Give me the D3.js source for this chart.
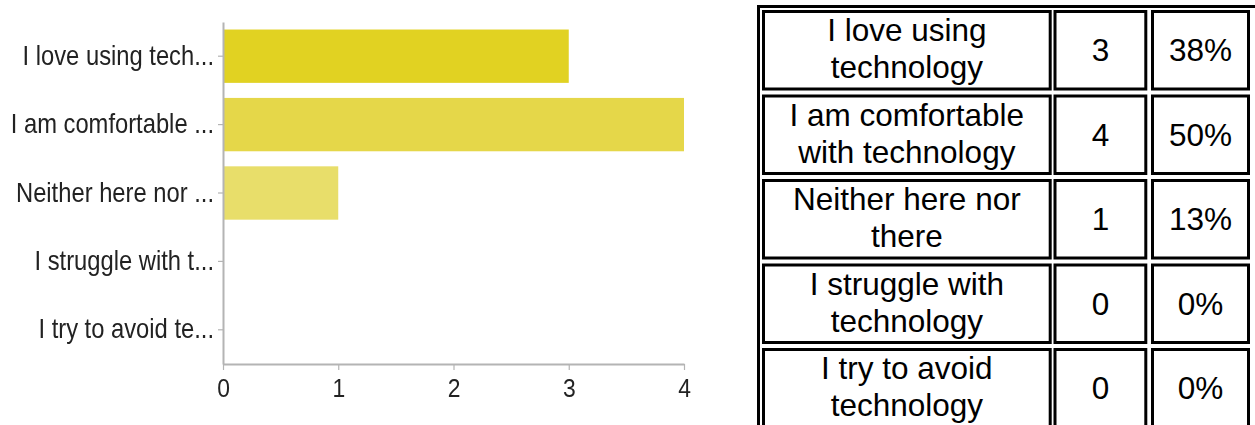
<!DOCTYPE html>
<html>
<head>
<meta charset="utf-8">
<script src="https://cdn.jsdelivr.net/npm/d3@7"></script>
<style>
  html, body { margin: 0; padding: 0; background: #fff; }
  svg { display: block; }
</style>
</head>
<body>
<svg id="chart" width="1255" height="425"></svg>
<script>
// Survey answers: "How do you feel about technology?"
const shortLabels = [
  "I love using tech...",
  "I am comfortable ...",
  "Neither here nor ...",
  "I struggle with t...",
  "I try to avoid te..."
];
const fullLabels = [
  ["I love using", "technology"],
  ["I am comfortable", "with technology"],
  ["Neither here nor", "there"],
  ["I struggle with", "technology"],
  ["I try to avoid", "technology"]
];
const counts = [3, 4, 1, 0, 0];
const percents = [38, 50, 13, 0, 0];
const xTicks = [0, 1, 2, 3, 4];
const barColors = ["#e1d223", "#e5d749", "#e8de6b", "#ebe38a", "#eee8a6"];

const svg = d3.select("#chart");

// soft edge used on the bar chart
const defs = svg.append("defs");
defs.append("filter").attr("id", "soft")
  .attr("x", "-5%").attr("y", "-5%").attr("width", "110%").attr("height", "110%")
  .append("feGaussianBlur").attr("stdDeviation", 0.6);

// ---------- bar chart ----------
const x = d3.scaleLinear().domain([0, 4]).range([223, 684]);
const y = d3.scaleBand().domain(shortLabels).range([22, 364])
  .paddingInner(0.22).paddingOuter(0.11);

const chartFont = "'Liberation Sans', Arial, sans-serif";
const squeeze = 0.88;

const chart = svg.append("g").attr("filter", "url(#soft)");

chart.selectAll("rect.bar")
  .data(counts)
  .join("rect")
  .attr("class", "bar")
  .attr("x", x(0))
  .attr("y", (d, i) => y(shortLabels[i]))
  .attr("width", d => x(d) - x(0))
  .attr("height", y.bandwidth())
  .attr("fill", (d, i) => barColors[i]);

const yAxis = chart.append("g")
  .attr("transform", `translate(${x(0)},0)`)
  .call(d3.axisLeft(y).tickSize(5).tickSizeOuter(0).tickPadding(4));
yAxis.select(".domain").attr("stroke", "#b4b4b4").attr("stroke-width", 2);
yAxis.selectAll(".tick line").attr("stroke", "#b4b4b4").attr("stroke-width", 1.2);
yAxis.selectAll(".tick text")
  .attr("fill", "#222")
  .attr("x", 0)
  .attr("transform", `translate(-9,0) scale(${squeeze},1)`)
  .style("font-family", chartFont)
  .style("font-size", "27px");

const xAxis = chart.append("g")
  .attr("transform", `translate(0,364)`)
  .call(d3.axisBottom(x).tickValues(xTicks).tickFormat(d3.format("d"))
    .tickSize(6).tickSizeOuter(0).tickPadding(9));
xAxis.select(".domain").attr("stroke", "#b4b4b4").attr("stroke-width", 2);
xAxis.selectAll(".tick line").attr("stroke", "#b4b4b4").attr("stroke-width", 1.2);
xAxis.selectAll(".tick text")
  .attr("fill", "#222")
  .attr("y", 0)
  .attr("transform", `translate(0,15) scale(${squeeze},1)`)
  .style("font-family", chartFont)
  .style("font-size", "26px");

// ---------- summary table ----------
const colX = [762, 1053.5, 1151];
const colW = [289.7, 93.8, 99];
const rowTop = d3.scaleLinear().domain([0, 1]).range([10, 94.5]);
const rowH = 80.5;
const bw = 3;

const table = svg.append("g")
  .style("font-family", "'Liberation Sans', Arial, sans-serif")
  .style("font-size", "31.5px")
  .attr("fill", "#000");

// outer frame (runs past the right and bottom edges)
table.append("rect")
  .attr("x", 757 + bw / 2).attr("y", 5 + bw / 2)
  .attr("width", 520).attr("height", 460)
  .attr("fill", "none").attr("stroke", "#000").attr("stroke-width", bw);

const rows = table.selectAll("g.row")
  .data(counts.map((c, i) => ({ label: fullLabels[i], count: c, pct: percents[i], i })))
  .join("g")
  .attr("class", "row")
  .attr("transform", d => `translate(0,${rowTop(d.i)})`);

[0, 1, 2].forEach(c => {
  rows.append("rect")
    .attr("x", colX[c] + bw / 2).attr("y", bw / 2)
    .attr("width", colW[c] - bw).attr("height", rowH - bw)
    .attr("fill", "none").attr("stroke", "#000").attr("stroke-width", bw);
});

const mid = rowH / 2;
rows.append("text")
  .attr("text-anchor", "middle")
  .attr("x", colX[0] + colW[0] / 2)
  .selectAll("tspan")
  .data(d => d.label)
  .join("tspan")
  .attr("x", colX[0] + colW[0] / 2)
  .attr("y", (d, k) => mid - 9 + k * 37)
  .text(d => d);

rows.append("text")
  .attr("text-anchor", "middle")
  .attr("x", colX[1] + colW[1] / 2)
  .attr("y", mid + 11)
  .text(d => d.count);

rows.append("text")
  .attr("text-anchor", "middle")
  .attr("x", colX[2] + colW[2] / 2)
  .attr("y", mid + 11)
  .text(d => d.pct + "%");
</script>
</body>
</html>
